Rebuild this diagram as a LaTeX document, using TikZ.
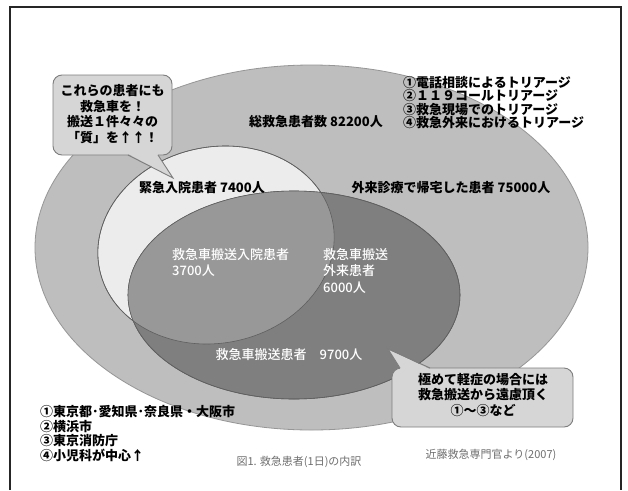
\documentclass[tikz,border=0pt]{standalone}
\usepackage{fontspec}
\setmainfont{Noto Sans CJK JP}
\newfontfamily\cjk{Noto Sans CJK JP}
\newfontfamily\cjkblack{Noto Sans CJK JP Black}
\newfontfamily\cjkmed{Noto Sans CJK JP Medium}
\definecolor{outerfill}{RGB}{190,190,190}
\definecolor{outerline}{RGB}{150,150,150}
\definecolor{lightfill}{RGB}{236,236,236}
\definecolor{midfill}{RGB}{152,152,152}
\definecolor{darkfill}{RGB}{127,127,127}
\definecolor{ellline}{RGB}{95,95,95}
\definecolor{calfill}{RGB}{214,214,214}
\definecolor{calline}{RGB}{125,125,125}
\definecolor{captext}{RGB}{110,110,110}
\begin{document}
\begin{tikzpicture}[x=1pt,y=-1pt,
  lbl/.style={inner sep=0pt,font=\cjk\bfseries\fontsize{13}{15}\selectfont,text=black},
  wlbl/.style={inner sep=0pt,font=\cjkmed\fontsize{13}{16.5}\selectfont,text=white,align=left},
  pop/.style={inner sep=0pt,font=\cjkblack\fontsize{13}{11.7}\selectfont,align=left},
  poplist/.style={inner sep=0pt,font=\cjkblack\fontsize{13}{14.4}\selectfont,align=left},
  calltext/.style={inner sep=0pt,font=\cjkblack\fontsize{13}{15.5}\selectfont,align=center},
  calbox/.style={fill=calfill,draw=calline,line width=0.9pt,rounded corners=9pt},
  captxt/.style={inner sep=0pt,font=\cjk\fontsize{11}{13}\selectfont,text=captext}]
\useasboundingbox (0,0) rectangle (628,490);
\fill[white] (0,0) rectangle (628,490);
% frame
\draw[line width=1.5pt,black!85] (10,490) -- (10,7) -- (621,7) -- (621,490);
% outer ellipse
\draw[fill=outerfill,draw=outerline,line width=0.8pt] (311.5,247.5) ellipse [x radius=276.5, y radius=182.5];
% light ellipse (emergency admissions)
\draw[fill=lightfill,draw=ellline,line width=0.6pt,rotate around={12:(216,245)}] (216,245) ellipse [x radius=119, y radius=98];
% dark ellipse (ambulance transport)
\draw[fill=darkfill,draw=ellline,line width=0.6pt] (294,295) ellipse [x radius=166, y radius=104];
% intersection
\begin{scope}
\clip[rotate around={12:(216,245)}] (216,245) ellipse [x radius=119, y radius=98];
\fill[midfill] (294,295) ellipse [x radius=166, y radius=104];
\end{scope}
\draw[draw=ellline,line width=0.6pt,rotate around={12:(216,245)}] (216,245) ellipse [x radius=119, y radius=98];
\draw[draw=ellline,line width=0.6pt] (294,295) ellipse [x radius=166, y radius=104];
% labels
\node[lbl] (total) at (316,122) {総救急患者数 82200人};
\node[lbl] (adm) at (202,188) {緊急入院患者 7400人};
\node[lbl] (out) at (451,188) {外来診療で帰宅した患者 75000人};
\node[wlbl,anchor=north west] (ambadm) at (172,248) {救急車搬送入院患者\\3700人};
\node[wlbl,anchor=north west] (ambout) at (323,248) {救急車搬送\\外来患者\\6000人};
\node[wlbl,anchor=center] (amb) at (289,355) {救急車搬送患者\quad 9700人};
% triage list
\node[pop,anchor=west] (triage) at (403,102.5) {①電話相談によるトリアージ\\②１１９コールトリアージ\\③救急現場でのトリアージ\\④救急外来におけるトリアージ};
% callout 1
\node[calbox,minimum width=119pt,minimum height=80pt,inner sep=0pt] (cb1) at (112.5,115) {};
\fill[calfill] (128.5,154) -- (173,178) -- (157.5,154) -- cycle;
\draw[calline,line width=0.9pt] (128,155) -- (173,178) -- (158,155);
\node[calltext] (ct1) at (112.5,114) {これらの患者にも\\救急車を！\\搬送１件々々の\\「質」を↑↑！};
% callout 2
\node[calbox,minimum width=181pt,minimum height=59pt,inner sep=0pt] (cb2) at (482.5,397.5) {};
\fill[calfill] (400.5,369) -- (388,349) -- (429.5,369) -- cycle;
\draw[calline,line width=0.9pt] (400,368) -- (388,349) -- (430,368);
\node[calltext] (ct2) at (483,395) {極めて軽症の場合には\\救急搬送から遠慮頂く\\①～③など};
% bottom-left list
\node[poplist,anchor=west] (cities) at (40,433.5) {①東京都･愛知県･奈良県・大阪市\\②横浜市\\③東京消防庁\\④小児科が中心↑};
% captions
\node[captxt] (fig) at (299,462) {図1. 救急患者(1日)の内訳};
\node[captxt] (src) at (491,455) {近藤救急専門官より(2007)};
\end{tikzpicture}
\end{document}
